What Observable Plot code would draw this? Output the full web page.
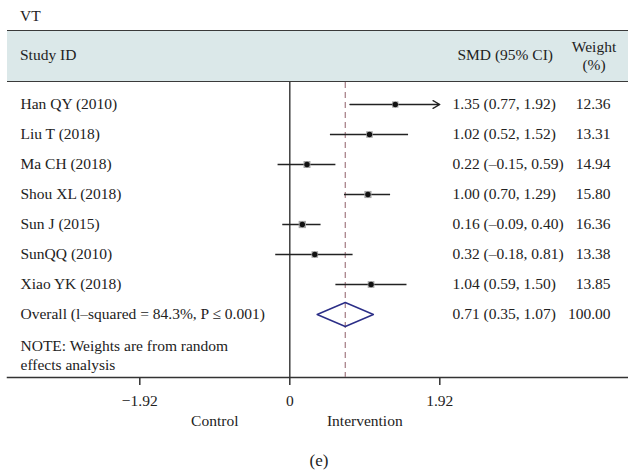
<!DOCTYPE html>
<html>
<head>
<meta charset="utf-8">
<script src="https://cdn.jsdelivr.net/npm/d3@7"></script>
<script src="https://cdn.jsdelivr.net/npm/@observablehq/plot@0.6"></script>
<style>
  html, body { margin: 0; padding: 0; background: #fff; overflow: hidden; }
  #wrap { position: relative; width: 628px; height: 474px; font-family: "Liberation Serif", "DejaVu Serif", serif; font-size: 15.5px; color: #222; }
  .t { position: absolute; line-height: 18px; white-space: nowrap; }
  #band { position: absolute; left: 7px; top: 30px; width: 621px; height: 52px; box-sizing: border-box;
          background: #dbe8e9; border-top: 1.5px solid #3a3a3a; border-bottom: 1.5px solid #3a3a3a; }
  #chart { position: absolute; left: 0; top: 82px; }
</style>
</head>
<body>
<div id="wrap">
  <div class="t" style="left:20px; top:7px;">VT</div>
  <div id="band"></div>
  <div class="t" style="left:20px; top:46px;">Study ID</div>
  <div class="t" style="right:75px; top:46px;">SMD (95% CI)</div>
  <div class="t" style="left:594px; top:38px; transform:translateX(-50%);">Weight</div>
  <div class="t" style="left:594px; top:56px; transform:translateX(-50%);">(%)</div>
  <div id="chart"></div>
  <div class="t" style="left:319px; top:452px; font-size:17px; transform:translateX(-50%);">(e)</div>
</div>
<script>
// ---- data ----
const studies = ["Han QY (2010)", "Liu T (2018)", "Ma CH (2018)", "Shou XL (2018)", "Sun J (2015)", "SunQQ (2010)", "Xiao YK (2018)"];
const smd     = [1.35, 1.02, 0.22, 1.00, 0.16, 0.32, 1.04];
const lower   = [0.77, 0.52, -0.15, 0.70, -0.09, -0.18, 0.59];
const upper   = [1.92, 1.52, 0.59, 1.29, 0.40, 0.81, 1.50];
const weights = [12.36, 13.31, 14.94, 15.80, 16.36, 13.38, 13.85];

const overallLabel = "Overall (l\u2013squared = 84.3%, P \u2264 0.001)";
const overallSmd = 0.71, overallLower = 0.35, overallUpper = 1.07, overallWeight = 100.00;

const noteText = "NOTE: Weights are from random\neffects analysis";
const xTicks = [-1.92, 0, 1.92];
const favourLabels = ["Control", "Intervention"];
const nullEffect = 0;

// ---- build table ----
const rows = studies.map((s, i) => ({row: i, label: s, smd: smd[i], lo: lower[i], hi: upper[i], weight: weights[i]}));
const overall = {row: studies.length, label: overallLabel, smd: overallSmd, lo: overallLower, hi: overallUpper, weight: overallWeight};
const allRows = [...rows, overall];
const xMin = xTicks[0], xMax = xTicks[xTicks.length - 1];

const num = v => v.toFixed(2).replace("-", "\u2013");
const ciText = d => `${num(d.smd)} (${num(d.lo)}, ${num(d.hi)})`;

const dh = 0.4; // diamond half-height in row units
const diamond = [
  {x: overall.lo, y: overall.row},
  {x: overall.smd, y: overall.row - dh},
  {x: overall.hi, y: overall.row},
  {x: overall.smd, y: overall.row + dh},
  {x: overall.lo, y: overall.row}
];

const ink = "#222";
const chart = Plot.plot({
  width: 628,
  height: 365,
  marginTop: 0,
  marginLeft: 7,
  marginRight: 0,
  marginBottom: 70,
  style: {fontFamily: '"Liberation Serif", "DejaVu Serif", serif', fontSize: "15.5px", color: ink, background: "transparent"},
  x: {domain: [xMin, xMax], range: [139.3, 439.3], label: null},
  y: {domain: [0, studies.length], range: [22, 232], axis: null},
  r: {range: [0, 4.1]},
  marks: [
    Plot.frame({anchor: "bottom", stroke: "#333", strokeWidth: 1.5}),
    Plot.ruleX([nullEffect], {stroke: "#333", strokeWidth: 1.4}),
    Plot.ruleX([overall.smd], {stroke: "#a27a82", strokeWidth: 1.2, strokeDasharray: "6,4"}),
    Plot.ruleY(rows.filter(d => d.hi < xMax), {y: "row", x1: "lo", x2: "hi", stroke: ink, strokeWidth: 1.3}),
    Plot.arrow(rows.filter(d => d.hi >= xMax), {x1: "lo", x2: "hi", y1: "row", y2: "row", stroke: ink, strokeWidth: 1.3, headLength: 9}),
    Plot.dot(rows, {x: "smd", y: "row", r: "weight", symbol: "square", fill: "#a6a6a6"}),
    Plot.dot(rows, {x: "smd", y: "row", r: 2.7, fill: "#111"}),
    Plot.line(diamond, {x: "x", y: "y", stroke: "#2b2e87", strokeWidth: 1.4}),
    Plot.text(allRows, {y: "row", text: "label", frameAnchor: "left", textAnchor: "start", dx: 13, fill: ink}),
    Plot.text(allRows, {y: "row", text: ciText, frameAnchor: "right", textAnchor: "start", dx: -176, fill: ink}),
    Plot.text(allRows, {y: "row", text: d => d.weight.toFixed(2), frameAnchor: "right", textAnchor: "end", dx: -18, fill: ink}),
    Plot.text([{row: studies.length + 1, text: noteText}], {y: "row", text: "text", frameAnchor: "left", textAnchor: "start", dx: 13, lineAnchor: "middle", dy: 9.5, lineHeight: 1.23, fill: ink}),
    Plot.axisX(xTicks, {anchor: "bottom", tickSize: 8, tickPadding: 9, stroke: "#333", strokeWidth: 1.5, fontSize: 15.5, fill: ink, label: null,
      tickFormat: d => d === 0 ? "0" : d3.format(".2f")(d)}),
    Plot.text(favourLabels, {x: [xMin / 2, xMax / 2], text: d => d, frameAnchor: "bottom", dy: 48, fill: ink})
  ]
});
document.getElementById("chart").appendChild(chart);
</script>
</body>
</html>
